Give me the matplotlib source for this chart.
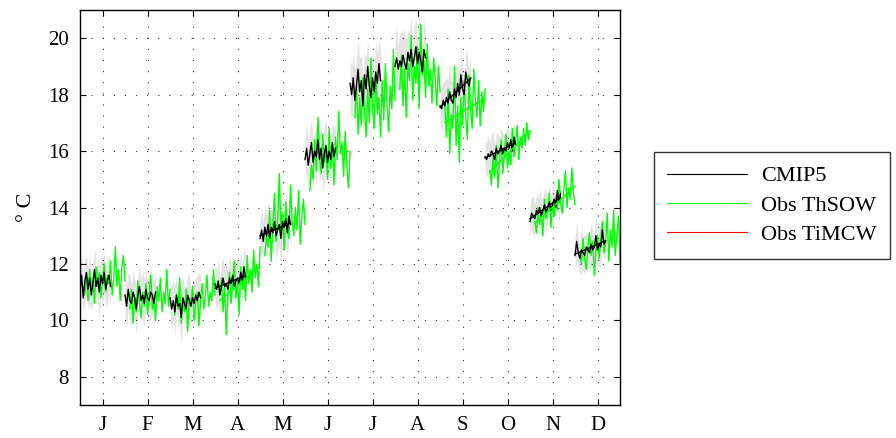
import numpy as np
import matplotlib
matplotlib.use('Agg')
import matplotlib.pyplot as plt

plt.rcParams['font.family'] = ['Liberation Serif', 'DejaVu Serif']
plt.rcParams['mathtext.fontset'] = 'stix'

months = ['J', 'F', 'M', 'A', 'M', 'J', 'J', 'A', 'S', 'O', 'N', 'D']
cmip_years = np.arange(1986, 2006)
obs_years = np.arange(1989, 2015)

# CMIP5 ensemble mean per month (one value per year)
cm_jan = [11.0, 11.6, 10.8, 11.4, 11.7, 11.1, 11.5, 10.9, 11.3, 11.8, 11.2, 11.5, 11.0, 11.6, 11.3, 11.7, 11.1, 11.4, 11.6, 11.2]
cm_feb = [10.9, 10.5, 11.1, 10.7, 10.6, 11.0, 10.8, 10.4, 10.9, 11.2, 10.7, 10.9, 10.6, 11.1, 10.8, 10.7, 11.0, 10.9, 10.6, 11.0]
cm_mar = [10.8, 10.4, 10.7, 10.3, 10.9, 10.5, 10.6, 10.1, 10.8, 10.6, 10.4, 10.9, 10.7, 10.5, 10.8, 10.6, 10.9, 10.7, 11.0, 10.8]
cm_apr = [11.3, 11.1, 11.4, 10.9, 11.2, 11.5, 11.2, 11.3, 11.1, 11.5, 11.3, 11.6, 11.2, 11.4, 11.5, 11.3, 11.7, 11.4, 11.9, 11.5]
cm_may = [12.9, 13.2, 12.8, 13.3, 13.0, 13.4, 12.9, 13.3, 13.1, 13.5, 13.0, 13.2, 13.4, 12.9, 13.5, 13.3, 13.6, 13.1, 13.7, 13.4]
cm_jun = [15.7, 16.1, 15.5, 15.9, 16.3, 15.6, 16.0, 15.8, 16.4, 15.7, 16.1, 15.4, 15.9, 16.2, 15.6, 16.0, 15.7, 16.3, 15.8, 16.1]
cm_jul = [18.4, 18.0, 18.6, 17.8, 18.3, 18.9, 18.1, 18.5, 17.6, 18.7, 18.2, 19.0, 18.3, 17.9, 18.6, 18.1, 18.8, 18.4, 19.1, 18.5]
cm_aug = [19.0, 19.3, 18.9, 19.2, 19.0, 19.4, 19.1, 18.9, 19.5, 19.2, 19.6, 19.0, 19.3, 19.7, 19.1, 19.5, 19.2, 18.8, 19.6, 19.3]
cm_sep = [17.6, 17.5, 17.8, 17.6, 17.9, 17.7, 18.1, 17.8, 17.7, 18.2, 17.9, 18.4, 18.0, 18.7, 18.2, 18.0, 18.8, 18.5, 18.3, 18.6]
cm_oct = [15.8, 15.7, 15.9, 15.8, 16.0, 15.9, 15.7, 16.1, 15.9, 16.0, 16.2, 15.9, 16.1, 16.0, 16.3, 16.1, 16.4, 16.0, 16.5, 16.2]
cm_nov = [13.5, 13.8, 13.7, 13.6, 13.9, 13.8, 14.0, 13.7, 13.9, 14.1, 13.8, 14.0, 14.2, 13.9, 14.1, 14.3, 14.0, 14.6, 14.2, 14.5]
cm_dec = [12.3, 12.8, 12.4, 12.2, 12.5, 12.4, 12.3, 12.6, 12.5, 12.4, 12.7, 12.5, 12.6, 13.0, 12.5, 12.7, 12.6, 13.2, 12.7, 12.8]

# ensemble spread (half width of grey band)
sp_jan = [0.6, 0.7, 0.5, 0.8, 0.6, 0.7, 0.9, 0.6, 0.7, 0.8, 0.6, 0.7, 0.9, 0.6, 0.8, 0.7, 0.6, 0.8, 0.7, 0.6]
sp_feb = [0.7, 0.8, 0.6, 0.9, 0.7, 0.8, 0.7, 0.9, 0.6, 0.8, 0.7, 0.9, 0.8, 0.7, 0.6, 0.8, 0.9, 0.7, 0.8, 0.7]
sp_mar = [0.6, 0.8, 0.7, 0.9, 0.6, 0.7, 0.8, 0.9, 0.7, 0.6, 0.8, 0.7, 0.9, 0.6, 0.7, 0.8, 0.6, 0.9, 0.7, 0.8]
sp_apr = [0.6, 0.7, 0.8, 0.6, 0.9, 0.7, 0.6, 0.8, 0.7, 0.9, 0.6, 0.8, 0.7, 0.6, 0.9, 0.7, 0.8, 0.6, 0.7, 0.8]
sp_may = [0.7, 0.8, 0.6, 0.9, 0.7, 0.8, 1.0, 0.7, 0.8, 0.6, 0.9, 0.7, 0.8, 1.0, 0.7, 0.6, 0.9, 0.8, 0.7, 0.8]
sp_jun = [0.8, 0.9, 0.7, 1.0, 0.8, 0.9, 0.7, 1.0, 0.8, 0.9, 0.7, 0.8, 1.0, 0.9, 0.7, 0.8, 0.9, 0.7, 1.0, 0.8]
sp_jul = [0.9, 1.0, 0.8, 1.1, 0.9, 1.0, 1.2, 0.9, 1.0, 0.8, 1.1, 0.9, 1.0, 1.2, 0.9, 0.8, 1.1, 1.0, 0.9, 1.0]
sp_aug = [0.9, 1.1, 0.8, 1.0, 1.2, 0.9, 1.0, 1.1, 0.8, 1.0, 1.2, 0.9, 1.1, 1.0, 0.9, 1.2, 1.0, 0.8, 1.1, 0.9]
sp_sep = [0.7, 0.8, 0.6, 0.9, 0.7, 0.8, 1.0, 0.7, 0.8, 0.6, 0.9, 0.7, 0.8, 0.9, 0.7, 0.6, 0.8, 0.9, 0.7, 0.8]
sp_oct = [0.5, 0.6, 0.7, 0.5, 0.6, 0.8, 0.5, 0.6, 0.7, 0.5, 0.6, 0.7, 0.5, 0.6, 0.8, 0.5, 0.6, 0.7, 0.5, 0.6]
sp_nov = [0.5, 0.6, 0.7, 0.5, 0.6, 0.5, 0.7, 0.6, 0.5, 0.6, 0.7, 0.5, 0.6, 0.5, 0.7, 0.6, 0.5, 0.6, 0.7, 0.5]
sp_dec = [0.6, 0.7, 0.5, 0.6, 0.8, 0.6, 0.7, 0.5, 0.6, 0.7, 0.8, 0.6, 0.5, 0.7, 0.6, 0.8, 0.6, 0.7, 0.5, 0.6]

# observations, ThSOW
ob_jan = [10.9, 11.6, 10.7, 11.8, 11.1, 11.5, 10.6, 11.9, 11.2, 11.7, 10.8, 11.4, 12.0, 11.0, 11.6, 11.3, 12.1, 10.9, 11.5, 12.6, 11.2, 11.8, 10.7, 11.9, 12.3, 11.4]
ob_feb = [10.4, 11.1, 9.9, 10.8, 10.3, 11.4, 10.6, 10.1, 11.0, 10.5, 11.3, 10.2, 10.9, 11.6, 10.4, 10.8, 10.0, 11.2, 10.7, 11.5, 10.3, 11.0, 10.6, 11.8, 10.5, 11.1]
ob_mar = [10.2, 10.9, 10.4, 11.5, 9.9, 10.7, 10.3, 11.1, 9.6, 10.8, 10.5, 11.2, 10.0, 10.6, 11.0, 9.8, 10.7, 11.3, 10.4, 10.9, 11.6, 10.5, 11.0, 10.7, 11.8, 10.9]
ob_apr = [10.9, 11.5, 10.3, 11.2, 9.5, 11.0, 11.7, 10.6, 11.3, 12.1, 10.8, 11.4, 10.2, 11.9, 11.1, 11.6, 10.7, 12.3, 11.3, 11.8, 11.0, 12.5, 11.5, 12.0, 11.2, 12.6]
ob_may = [12.3, 13.0, 12.6, 13.9, 12.1, 13.4, 14.5, 12.8, 13.6, 15.2, 13.1, 13.8, 12.5, 14.2, 13.3, 12.9, 14.8, 13.5, 13.0, 14.0, 13.2, 14.6, 12.7, 13.7, 14.3, 13.4]
ob_jun = [14.6, 15.5, 15.0, 16.4, 15.3, 17.2, 15.8, 15.2, 16.6, 15.6, 16.1, 15.0, 16.8, 15.4, 16.2, 14.8, 16.5, 15.7, 17.4, 15.9, 16.3, 15.1, 16.7, 15.5, 14.7, 16.0]
ob_jul = [17.2, 18.4, 16.6, 17.9, 16.9, 18.6, 17.4, 16.5, 18.2, 17.0, 19.3, 17.6, 16.8, 18.8, 17.3, 17.9, 16.5, 18.5, 17.1, 19.1, 17.7, 16.7, 18.3, 17.5, 19.6, 17.8]
ob_aug = [18.2, 19.4, 17.6, 18.9, 17.2, 19.1, 18.5, 20.1, 17.8, 19.0, 18.4, 19.7, 17.5, 20.5, 18.7, 19.2, 17.9, 19.8, 18.3, 18.9, 17.7, 19.3, 18.6, 17.6, 19.0, 18.1]
ob_sep = [17.6, 16.5, 18.2, 15.9, 17.3, 16.8, 19.0, 16.2, 17.6, 15.6, 17.9, 16.9, 18.5, 17.2, 16.4, 18.7, 17.5, 16.8, 18.9, 17.8, 17.2, 18.5, 16.9, 18.1, 17.4, 18.2]
ob_oct = [15.3, 14.8, 15.8, 15.1, 16.2, 14.7, 15.6, 16.4, 15.2, 15.9, 16.6, 15.4, 16.0, 15.5, 16.8, 15.8, 16.3, 16.9, 15.7, 16.5, 16.1, 16.8, 16.2, 17.0, 16.4, 16.7]
ob_nov = [13.5, 13.1, 14.0, 13.4, 13.8, 13.0, 14.3, 13.6, 13.9, 14.5, 13.3, 14.1, 13.7, 14.4, 13.9, 15.0, 14.2, 13.8, 14.6, 15.3, 14.0, 14.7, 14.3, 15.4, 14.5, 14.1]
ob_dec = [12.4, 12.0, 12.9, 12.2, 11.8, 12.6, 13.1, 12.3, 12.8, 11.6, 12.5, 13.0, 12.2, 12.9, 13.5, 12.4, 12.7, 13.8, 12.1, 13.2, 12.6, 13.9, 12.3, 13.0, 13.7, 12.0]

# months where a trend line is drawn
cmip_trend = [4, 5, 9, 10, 11, 12]
obs_trend = [4, 9, 10, 11]

cmip = [cm_jan, cm_feb, cm_mar, cm_apr, cm_may, cm_jun, cm_jul, cm_aug, cm_sep, cm_oct, cm_nov, cm_dec]
spread = [sp_jan, sp_feb, sp_mar, sp_apr, sp_may, sp_jun, sp_jul, sp_aug, sp_sep, sp_oct, sp_nov, sp_dec]
obs = [ob_jan, ob_feb, ob_mar, ob_apr, ob_may, ob_jun, ob_jul, ob_aug, ob_sep, ob_oct, ob_nov, ob_dec]

fig = plt.figure(figsize=(8.96, 4.38), dpi=100)
ax = fig.add_axes([0.0893, 0.0753, 0.6027, 0.9019])

green = '#00ff00'
for m in range(1, 13):
    xc = m - 0.5 + (cmip_years - 1986) / 28.0
    xo = m - 0.5 + (obs_years - 1986) / 28.0
    c = np.array(cmip[m - 1])
    s = np.array(spread[m - 1])
    o = np.array(obs[m - 1])
    ax.fill_between(xc, c - s, c + s, color='#e3e3e3', linewidth=0, zorder=1)
    ax.plot(xo, o, color=green, lw=1.0, zorder=2)
    ax.plot(xc, c, color='black', lw=1.0, zorder=3)
    if m in cmip_trend:
        p = np.polyfit(xc, c, 1)
        ax.plot(xc[[0, -1]], np.polyval(p, xc[[0, -1]]), color='black', lw=1.0, zorder=4)
    if m in obs_trend:
        p = np.polyfit(xo, o, 1)
        ax.plot(xo[[0, -1]], np.polyval(p, xo[[0, -1]]), color=green, lw=1.0, zorder=4)

# legend handles
ax.plot([], [], color='black', lw=0.8, label='CMIP5')
ax.plot([], [], color=green, lw=0.8, label='Obs ThSOW')
ax.plot([], [], color='red', lw=0.8, label='Obs TiMCW')
handles, labels = ax.get_legend_handles_labels()
leg = ax.legend(handles, labels, loc='center left', bbox_to_anchor=(1.063, 0.505),
                fontsize=16, frameon=True, fancybox=False, edgecolor='black',
                handlelength=3.6, borderpad=0.6, labelspacing=0.4, handletextpad=0.6,
                borderaxespad=0)
leg.get_frame().set_linewidth(1.0)

ax.set_xlim(0.5, 12.5)
ax.set_ylim(7, 21)
ax.set_xticks(range(1, 13))
ax.set_xticklabels(months)
ax.set_yticks(range(8, 21, 2))
ax.tick_params(direction='in', length=4, labelsize=15, top=True, right=True, pad=8)
ax.grid(True, linestyle=(0, (1, 9)), color='black', linewidth=0.8, alpha=0.8)
for sp in ax.spines.values():
    sp.set_linewidth(1.0)
ax.set_ylabel('° C', fontsize=16, labelpad=9)

plt.savefig('out.png', dpi=100)
plt.close()
